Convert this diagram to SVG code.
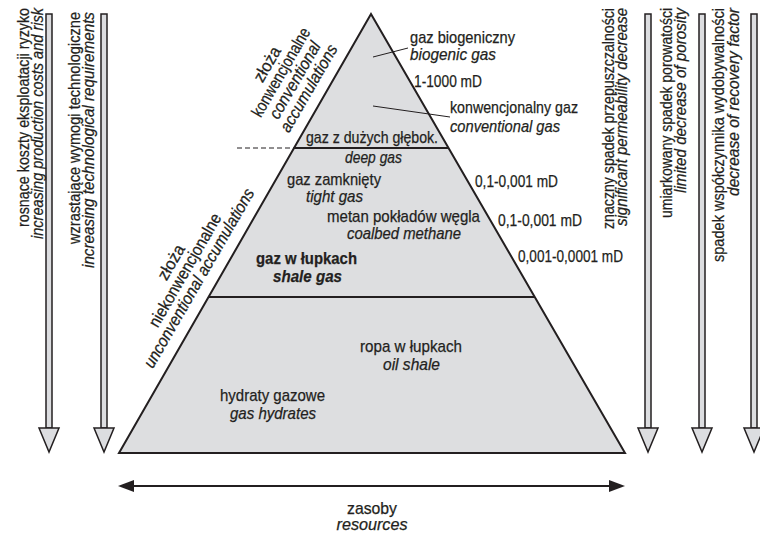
<svg xmlns="http://www.w3.org/2000/svg" width="760" height="535" viewBox="0 0 760 535">
<defs>
<style>
.t{font-family:"Liberation Sans Narrow","Liberation Sans",Arial,sans-serif;font-size:17px;fill:#231f20;stroke:#231f20;stroke-width:0.25}
.r{font-size:16.5px}
.i{font-style:italic}
.b{font-weight:bold}
.m{text-anchor:middle}
.e{text-anchor:end}
.ln{stroke:#231f20;stroke-width:2;fill:none}
.thin{stroke:#231f20;stroke-width:1;fill:none}
.shaft{fill:#dcdde0;stroke:#231f20;stroke-width:1.5}
.head{fill:#dcdde0;stroke:#231f20;stroke-width:1.5;stroke-linejoin:miter}
</style>
</defs>
<rect width="760" height="535" fill="#ffffff"/>

<g id="pyramid">
<polygon points="371,14 119,453 625,453" fill="#dddee0" stroke="#231f20" stroke-width="2" stroke-linejoin="miter"/>
<line class="ln" x1="294" y1="148" x2="449" y2="148"/>
<line class="ln" x1="209" y1="297" x2="535" y2="297"/>
<line x1="237" y1="148" x2="294" y2="148" stroke="#231f20" stroke-width="1" stroke-dasharray="5,3"/>
</g>

<g id="connectors">
<line class="thin" x1="373" y1="57" x2="408" y2="48"/>
<line class="thin" x1="373" y1="106" x2="450" y2="117"/>
<g id="resources-arrow">
<line class="ln" x1="130" y1="486" x2="613" y2="486"/>
<polygon points="118,486 134,480 134,492" fill="#231f20"/>
<polygon points="625,486 609,480 609,492" fill="#231f20"/>
</g>
</g>

<g id="biogenic">
<text class="t" x="410" y="43" textLength="105" lengthAdjust="spacingAndGlyphs">gaz biogeniczny</text>
<text class="t i" x="410" y="60" textLength="86" lengthAdjust="spacingAndGlyphs">biogenic gas</text>
</g>
<g id="perm-1"><text class="t" x="414" y="87" textLength="68" lengthAdjust="spacingAndGlyphs">1-1000 mD</text></g>
<g id="conventional">
<text class="t" x="450" y="113" textLength="128" lengthAdjust="spacingAndGlyphs">konwencjonalny gaz</text>
<text class="t i" x="450" y="132" textLength="110" lengthAdjust="spacingAndGlyphs">conventional gas</text>
</g>
<g id="deep">
<text class="t" x="306" y="143" textLength="132" lengthAdjust="spacingAndGlyphs">gaz z dużych głębok.</text>
<text class="t i" x="345" y="163" textLength="57" lengthAdjust="spacingAndGlyphs">deep gas</text>
</g>
<g id="tight">
<text class="t" x="287" y="185" textLength="94" lengthAdjust="spacingAndGlyphs">gaz zamknięty</text>
<text class="t i" x="306" y="202" textLength="57" lengthAdjust="spacingAndGlyphs">tight gas</text>
</g>
<g id="coalbed">
<text class="t" x="327" y="222" textLength="153" lengthAdjust="spacingAndGlyphs">metan pokładów węgla</text>
<text class="t i" x="347" y="239" textLength="114" lengthAdjust="spacingAndGlyphs">coalbed methane</text>
</g>
<g id="shale">
<text class="t b" x="256" y="264" textLength="101" lengthAdjust="spacingAndGlyphs">gaz w łupkach</text>
<text class="t b i" x="273" y="282" textLength="69" lengthAdjust="spacingAndGlyphs">shale gas</text>
</g>
<g id="perm-2"><text class="t" x="475" y="187" textLength="83" lengthAdjust="spacingAndGlyphs">0,1-0,001 mD</text></g>
<g id="perm-3"><text class="t" x="498" y="226" textLength="84" lengthAdjust="spacingAndGlyphs">0,1-0,001 mD</text></g>
<g id="perm-4"><text class="t" x="518" y="262" textLength="105" lengthAdjust="spacingAndGlyphs">0,001-0,0001 mD</text></g>
<g id="oil-shale">
<text class="t" x="360" y="352" textLength="102" lengthAdjust="spacingAndGlyphs">ropa w łupkach</text>
<text class="t i" x="383" y="370" textLength="57" lengthAdjust="spacingAndGlyphs">oil shale</text>
</g>
<g id="hydrates">
<text class="t" x="220" y="401" textLength="105" lengthAdjust="spacingAndGlyphs">hydraty gazowe</text>
<text class="t i" x="230" y="419" textLength="86" lengthAdjust="spacingAndGlyphs">gas hydrates</text>
</g>
<g id="resources">
<text class="t m" x="372" y="514" textLength="50" lengthAdjust="spacingAndGlyphs">zasoby</text>
<text class="t i m" x="372" y="530" textLength="71" lengthAdjust="spacingAndGlyphs">resources</text>
</g>

<g id="conv-label" transform="translate(272,67) rotate(-60)">
<text class="t m" x="0" y="0" textLength="38" lengthAdjust="spacingAndGlyphs">złoża</text>
<text class="t m" x="0" y="16" textLength="100" lengthAdjust="spacingAndGlyphs">konwencjonalne</text>
<text class="t i m" x="0" y="32" textLength="86" lengthAdjust="spacingAndGlyphs">conventional</text>
<text class="t i m" x="0" y="48" textLength="98" lengthAdjust="spacingAndGlyphs">accumulations</text>
</g>
<g id="unconv-label" transform="translate(176,265) rotate(-60)">
<text class="t m" x="0" y="0" textLength="38" lengthAdjust="spacingAndGlyphs">złoża</text>
<text class="t m" x="0" y="16" textLength="128" lengthAdjust="spacingAndGlyphs">niekonwencjonalne</text>
<text class="t i m" x="0" y="32" textLength="204" lengthAdjust="spacingAndGlyphs">unconventional accumulations</text>
</g>

<g id="arrow-costs">
<rect class="shaft" x="46" y="14" width="6" height="414"/>
<polygon class="head" points="39,428 59,428 49,452"/>
<text class="t r e" transform="translate(29,8) rotate(-90)" textLength="219" lengthAdjust="spacingAndGlyphs">rosnące koszty eksploatacji ryzyko</text>
<text class="t r i e" transform="translate(43,8) rotate(-90)" textLength="231" lengthAdjust="spacingAndGlyphs">increasing production costs and risk</text>
</g>
<g id="arrow-tech">
<rect class="shaft" x="101" y="14" width="6" height="414"/>
<polygon class="head" points="94,428 114,428 104,452"/>
<text class="t r e" transform="translate(80,12) rotate(-90)" textLength="232" lengthAdjust="spacingAndGlyphs">wzrastające wymogi technologiczne</text>
<text class="t r i e" transform="translate(94,12) rotate(-90)" textLength="256" lengthAdjust="spacingAndGlyphs">increasing technological requirements</text>
</g>
<g id="arrow-perm">
<rect class="shaft" x="645" y="14" width="6" height="414"/>
<polygon class="head" points="638,428 658,428 648,452"/>
<text class="t r e" transform="translate(614,8) rotate(-90)" textLength="221" lengthAdjust="spacingAndGlyphs">znaczny spadek przepuszczalności</text>
<text class="t r i e" transform="translate(627,8) rotate(-90)" textLength="218" lengthAdjust="spacingAndGlyphs">significant permeability decrease</text>
</g>
<g id="arrow-poro">
<rect class="shaft" x="699" y="14" width="6" height="414"/>
<polygon class="head" points="692,428 712,428 702,452"/>
<text class="t r e" transform="translate(672,8) rotate(-90)" textLength="210" lengthAdjust="spacingAndGlyphs">umiarkowany spadek porowatości</text>
<text class="t r i e" transform="translate(686,8) rotate(-90)" textLength="185" lengthAdjust="spacingAndGlyphs">limited decrease of porosity</text>
</g>
<g id="arrow-recovery">
<rect class="shaft" x="751" y="14" width="6" height="414"/>
<polygon class="head" points="744,428 764,428 754,452"/>
<text class="t r e" transform="translate(724,8) rotate(-90)" textLength="254" lengthAdjust="spacingAndGlyphs">spadek współczynnika wydobywalności</text>
<text class="t r i e" transform="translate(739,8) rotate(-90)" textLength="188" lengthAdjust="spacingAndGlyphs">decrease of recovery factor</text>
</g>
</svg>
